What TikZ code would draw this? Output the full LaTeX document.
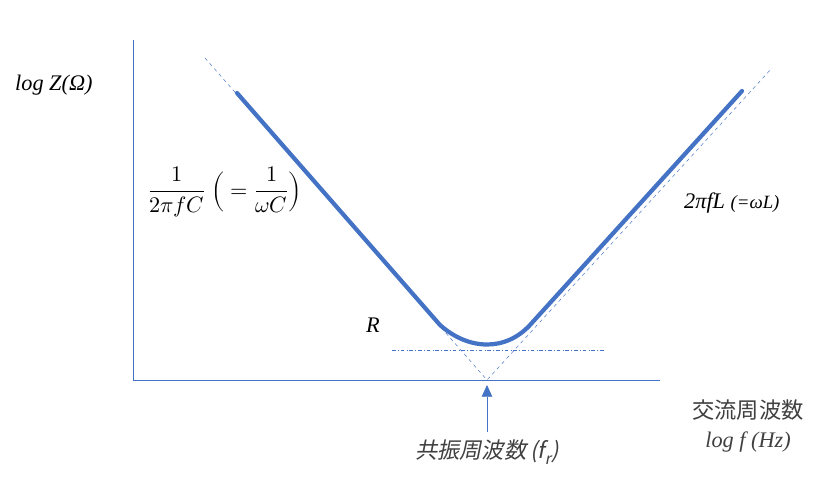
\documentclass[tikz,border=0pt]{standalone}
\usetikzlibrary{arrows.meta}
\usepackage{fontspec}
\setmainfont{Liberation Serif}
\newfontfamily\cjk[FakeSlant=0.2]{Noto Sans CJK JP}
\newfontfamily\cjkup{Noto Sans CJK JP}
\usepackage{unicode-math}
\setmathfont{Latin Modern Math}
\definecolor{blu}{HTML}{4472C4}
\definecolor{txt}{HTML}{404040}
\begin{document}
\begin{tikzpicture}[x=0.03cm,y=-0.03cm,
  axis/.style={blu,line width=0.6pt},
  asym/.style={blu,dashed,line width=0.4pt},
  curve/.style={blu,line width=3.6pt,line cap=round},
  lbl/.style={inner sep=0pt,font=\fontsize{19}{22}\selectfont}]
\useasboundingbox (0,0) rectangle (836,480);
\coordinate (ytop) at (133,40);
\coordinate (o) at (133,380);
\coordinate (xend) at (660,380);
\draw[axis] (ytop) -- (o) -- (xend);
\coordinate (la) at (205,58);
\coordinate (v) at (487,380);
\coordinate (ra) at (772,68);
\draw[asym] (la) -- (v) -- (ra);
\coordinate (h1) at (392,350);
\coordinate (h2) at (604,350);
\draw[blu,dash dot,line width=0.4pt] (h1) -- (h2);
\coordinate (c1) at (237,93);
\coordinate (c2) at (440,325);
\coordinate (c3) at (530,325);
\coordinate (c4) at (742,91);
\draw[curve] (c1) -- (c2) .. controls (468,350) and (505,352) .. (c3) -- (c4);
\coordinate (a1) at (487,432);
\coordinate (a2) at (487,385);
\draw[blu,line width=0.6pt,-{Triangle[length=10pt,width=9pt]}] (a1) -- (a2);
\node[lbl,anchor=west] (lz) at (15,85) {\textit{log Z(Ω)}};
\node[lbl,anchor=west] (fc) at (148,192) {$\dfrac{1}{2\pi fC}\ \Big(= \dfrac{1}{\omega C}\Big)$};
\node[lbl,anchor=west] (fl) at (684,203) {\textit{2πfL} {\fontsize{16}{19}\selectfont\textit{(=ωL)}}};
\node[lbl,anchor=center] (r) at (373,325) {\textit{R}};
\node[lbl,anchor=center,text=txt] (jp) at (748,410) {\cjkup 交流周波数};
\node[lbl,anchor=center,text=txt] (lf) at (748,442) {\textit{log f (Hz)}};
\node[lbl,anchor=center,text=txt] (fr) at (487,452) {\cjk 共振周波数\,\textit{(f\textsubscript{r})}};
\end{tikzpicture}
\end{document}
